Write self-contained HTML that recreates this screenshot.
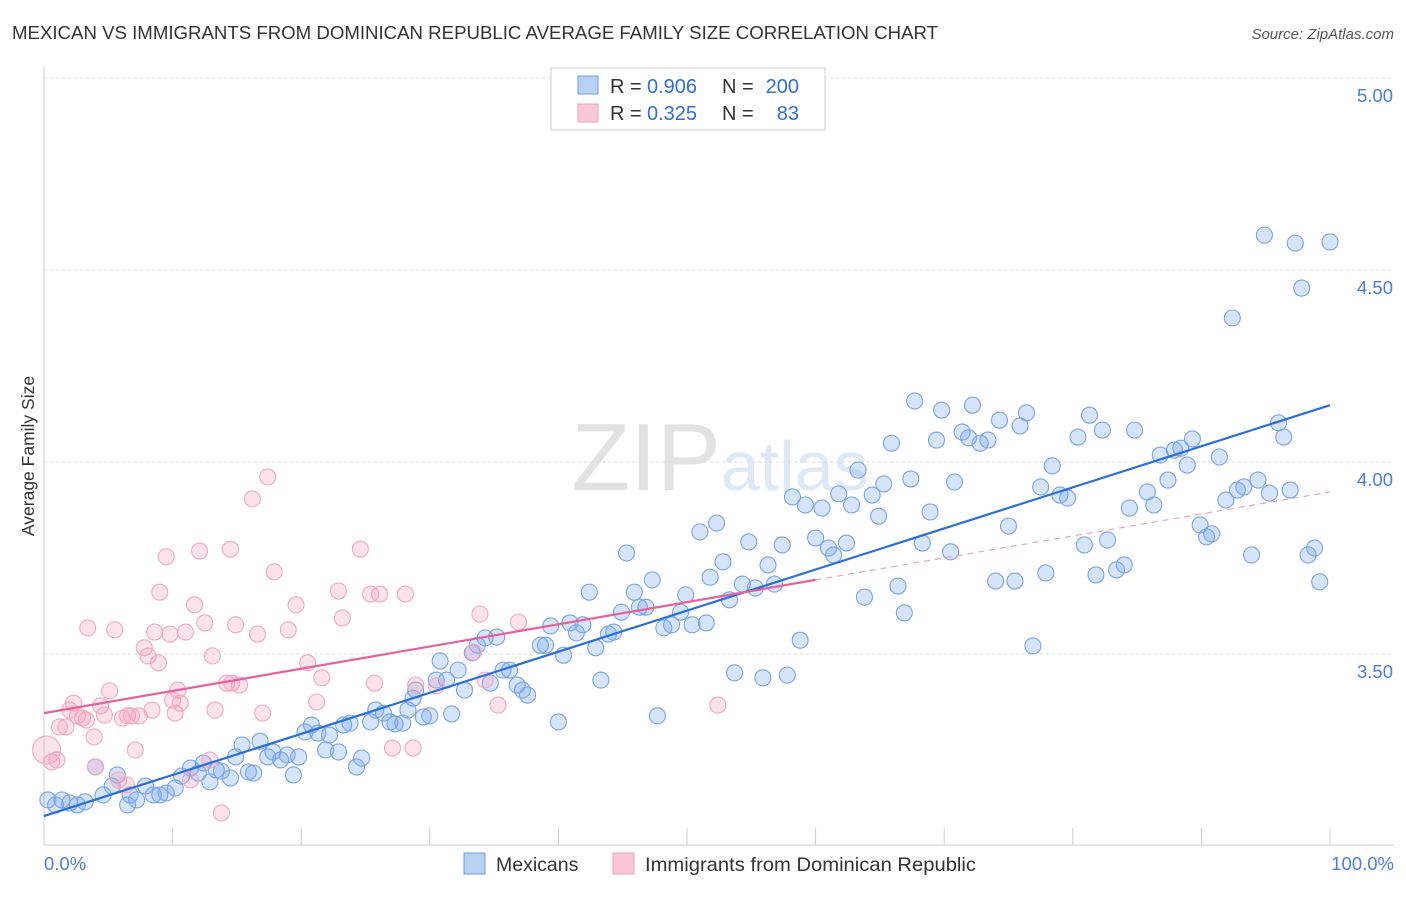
<!DOCTYPE html>
<html><head><meta charset="utf-8"><style>
body{margin:0;background:#fff;font-family:"Liberation Sans",sans-serif}
svg text{font-family:"Liberation Sans",sans-serif}
</style></head><body>
<svg id="c" width="1406" height="892">
<text x="12" y="39" font-size="18.6" fill="#333" textLength="926" lengthAdjust="spacingAndGlyphs">MEXICAN VS IMMIGRANTS FROM DOMINICAN REPUBLIC AVERAGE FAMILY SIZE CORRELATION CHART</text>
<text x="1394" y="39" font-size="15" fill="#555" font-style="italic" text-anchor="end">Source: ZipAtlas.com</text>
<text x="720" y="490" font-size="96" fill="#e8e8e8" text-anchor="middle" font-family="Liberation Serif"><tspan fill="#e2e2e2">ZIP</tspan><tspan fill="#dfe8f5" font-family="Liberation Sans" font-size="70">atlas</tspan></text>
<g id="grid"></g><g id="pts"></g><g id="lines"></g>
<text transform="translate(34,456) rotate(-90)" font-size="17.5" fill="#333" text-anchor="middle">Average Family Size</text>
<text x="44" y="870" font-size="18.5" fill="#4a7fd6">0.0%</text>
<text x="1394" y="870" font-size="18.5" fill="#4a7fd6" text-anchor="end">100.0%</text>
<g>
<rect x="551" y="68" width="274" height="62" fill="#fff" stroke="#ccc"/>
<rect x="578" y="76" width="20" height="18" fill="#b8d0f4" stroke="#6a9be0"/>
<rect x="578" y="104" width="20" height="18" fill="#f8c8d6" stroke="#f0a0b8"/>
<text x="610" y="93" font-size="20" fill="#333">R =</text>
<text x="647" y="93" font-size="20" fill="#2f6fd6">0.906</text>
<text x="722" y="93" font-size="20" fill="#333">N =</text>
<text x="799" y="93" font-size="20" fill="#2f6fd6" text-anchor="end">200</text>
<text x="610" y="120" font-size="20" fill="#333">R =</text>
<text x="647" y="120" font-size="20" fill="#2f6fd6">0.325</text>
<text x="722" y="120" font-size="20" fill="#333">N =</text>
<text x="799" y="120" font-size="20" fill="#2f6fd6" text-anchor="end">83</text>
</g>
<g>
<rect x="464" y="853" width="21" height="21" fill="#b8d0f4" stroke="#6a9be0"/>
<text x="496" y="871" font-size="19.5" fill="#333">Mexicans</text>
<rect x="613" y="853" width="21" height="21" fill="#f8c8d6" stroke="#f0a0b8"/>
<text x="645" y="871" font-size="19.5" fill="#333" textLength="331" lengthAdjust="spacingAndGlyphs">Immigrants from Dominican Republic</text>
</g>
</svg>
<script>
const yTicks=[3.5,4.0,4.5,5.0];
const yTickLabels=["3.50","4.00","4.50","5.00"];
const xTicks=[0,10,20,30,40,50,60,70,80,90,100];
const blueX=[0.3,0.9,1.4,2.0,2.6,3.2,4.0,4.6,5.3,5.7,6.5,6.7,7.2,7.9,8.5,9.0,9.5,10.2,10.7,11.4,12.0,12.4,12.9,13.4,13.8,14.5,14.9,15.4,15.9,16.3,16.8,17.4,17.8,18.4,18.9,19.4,19.8,20.3,20.8,21.3,21.9,22.2,22.9,23.3,23.8,24.3,24.7,25.4,25.8,26.4,26.9,27.3,27.9,28.3,28.7,28.9,29.5,30.0,30.5,30.8,31.3,31.7,32.2,32.7,33.3,33.7,34.3,34.7,35.2,35.7,36.2,36.8,37.2,37.6,38.6,39.0,39.4,40.0,40.4,40.9,41.4,41.9,42.4,42.9,43.3,43.9,44.3,44.9,45.3,45.9,46.3,46.8,47.3,47.7,48.2,48.8,49.5,49.9,50.4,51.0,51.5,51.8,52.3,52.8,53.3,53.7,54.3,54.8,55.3,55.9,56.3,56.8,57.4,57.8,58.2,58.8,59.2,60.0,60.5,61.0,61.4,61.8,62.4,62.8,63.3,63.8,64.4,64.9,65.3,65.9,66.4,66.9,67.4,67.7,68.3,68.9,69.4,69.8,70.5,70.8,71.4,71.9,72.2,72.8,73.4,74.0,74.3,75.0,75.5,75.9,76.4,76.9,77.5,77.9,78.4,79.0,79.6,80.4,80.9,81.3,81.8,82.3,82.7,83.4,84.0,84.4,84.8,85.8,86.3,86.8,87.4,87.9,88.4,88.9,89.3,89.9,90.4,90.8,91.4,91.9,92.4,92.8,93.3,93.9,94.4,94.9,95.3,96.0,96.4,96.9,97.3,97.8,98.3,98.8,99.2,100];
const blueY=[3.12,3.107,3.12,3.112,3.107,3.115,3.206,3.133,3.156,3.185,3.107,3.133,3.12,3.156,3.133,3.133,3.138,3.151,3.182,3.203,3.19,3.216,3.167,3.198,3.195,3.177,3.232,3.263,3.193,3.19,3.273,3.232,3.245,3.224,3.237,3.185,3.232,3.297,3.315,3.294,3.25,3.289,3.245,3.315,3.32,3.206,3.229,3.323,3.354,3.346,3.323,3.318,3.32,3.354,3.385,3.406,3.336,3.339,3.432,3.482,3.432,3.344,3.458,3.406,3.503,3.523,3.542,3.424,3.544,3.458,3.458,3.419,3.406,3.393,3.523,3.523,3.573,3.323,3.497,3.581,3.555,3.576,3.661,3.516,3.432,3.552,3.557,3.609,3.763,3.661,3.622,3.622,3.693,3.339,3.568,3.576,3.609,3.654,3.576,3.818,3.581,3.7,3.841,3.74,3.641,3.451,3.682,3.792,3.672,3.438,3.732,3.682,3.784,3.445,3.909,3.536,3.888,3.802,3.88,3.776,3.758,3.917,3.789,3.888,3.979,3.648,3.914,3.859,3.943,4.049,3.677,3.607,3.956,4.159,3.789,3.87,4.057,4.135,3.766,3.948,4.078,4.063,4.148,4.049,4.057,3.69,4.109,3.833,3.69,4.094,4.128,3.521,3.935,3.711,3.99,3.914,3.906,4.065,3.784,4.122,3.706,4.083,3.797,3.719,3.732,3.88,4.083,3.922,3.888,4.018,3.953,4.031,4.036,3.992,4.06,3.836,3.805,3.813,4.013,3.901,4.375,3.927,3.935,3.758,3.953,4.591,3.919,4.102,4.065,3.927,4.57,4.453,3.758,3.776,3.688,4.573];
const pinkX=[0.6,1.0,1.2,1.7,2.0,2.3,2.6,3.0,3.3,3.4,3.9,4.0,4.4,4.7,5.1,5.5,5.8,6.1,6.4,6.5,6.8,7.1,7.4,7.8,8.1,8.4,8.6,8.9,9.0,9.5,9.8,10.0,10.2,10.4,10.6,11.0,11.4,11.7,12.1,12.5,12.9,13.1,13.3,13.8,14.2,14.5,14.6,14.9,15.2,16.2,16.6,17.0,17.4,17.9,19.0,19.6,20.5,21.2,21.6,22.9,23.2,24.6,25.4,25.7,26.1,27.1,28.1,28.7,28.9,30.5,33.4,33.9,34.3,35.3,36.9,52.4];
const pinkY=[3.219,3.224,3.31,3.31,3.354,3.372,3.339,3.333,3.328,3.568,3.284,3.206,3.365,3.341,3.404,3.563,3.172,3.333,3.159,3.339,3.339,3.25,3.339,3.516,3.495,3.354,3.557,3.477,3.661,3.753,3.552,3.38,3.346,3.406,3.372,3.557,3.172,3.628,3.768,3.581,3.224,3.495,3.354,3.086,3.424,3.773,3.424,3.576,3.419,3.904,3.552,3.346,3.961,3.714,3.563,3.628,3.477,3.375,3.438,3.664,3.594,3.773,3.656,3.424,3.656,3.255,3.656,3.255,3.419,3.417,3.505,3.604,3.432,3.367,3.583,3.367];
const bigPink=[0.2,3.25];
const blueTrend=[[0,3.078],[100,4.148]];
const pinkTrend=[[0,3.346],[60,3.693]];
const pinkDash=[[60,3.693],[100,3.922]];
const NS="http://www.w3.org/2000/svg";
const X=v=>44+v*12.86, Y=v=>654-(v-3.5)*384;
function mk(tag,parent,attrs){const e=document.createElementNS(NS,tag);for(const k in attrs)e.setAttribute(k,attrs[k]);document.getElementById(parent).appendChild(e);return e;}
yTicks.forEach((t,i)=>{
 const l=mk('line','grid',{x1:44,x2:1394,y1:Y(t),y2:Y(t),stroke:'#ddd','stroke-dasharray':'3,3'});
 
 
 const tx=mk('text','grid',{x:1393,y:Y(t)+24,'font-size':18.5,fill:'#4a7fd6','text-anchor':'end'});
 tx.textContent=yTickLabels[i];
 
 
});
const ax=mk('line','grid',{x1:44,x2:44,y1:66,y2:845,stroke:'#ccc'});


const bx=mk('line','grid',{x1:44,x2:1394,y1:845,y2:845,stroke:'#ccc'});


xTicks.forEach(t=>{if(t===0)return;
 const l=mk('line','grid',{x1:X(t),x2:X(t),y1:828,y2:845,stroke:'#ccc'});
 
 
});
blueX.forEach((x,i)=>{
 const c=mk('circle','pts',{cx:X(x),cy:Y(blueY[i]),r:8,fill:'rgba(120,165,235,0.3)',stroke:'#78a4e4','stroke-width':1.1});
 
 
});
pinkX.forEach((x,i)=>{
 const c=mk('circle','pts',{cx:X(x),cy:Y(pinkY[i]),r:8,fill:'rgba(245,160,190,0.3)',stroke:'#f2a8c0','stroke-width':1.1});
 
 
});
const bp=mk('circle','pts',{cx:X(bigPink[0]),cy:Y(bigPink[1]),r:14,fill:'rgba(245,160,190,0.3)',stroke:'#f2a8c0','stroke-width':1.1});


function line(p,col,w,dash,name){const l=mk('line','lines',{x1:X(p[0][0]),y1:Y(p[0][1]),x2:X(p[1][0]),y2:Y(p[1][1]),stroke:col,'stroke-width':w});if(dash)l.setAttribute('stroke-dasharray',dash);
 
 }
line(blueTrend,'#2a6fd8',2.2,null,'mexicans-trend-line');
line(pinkTrend,'#e8609a',2.2,null,'dominican-trend-line');
line(pinkDash,'#eca0bc',1.2,'6,5','dominican-trend-extension');
</script>
</body></html>
